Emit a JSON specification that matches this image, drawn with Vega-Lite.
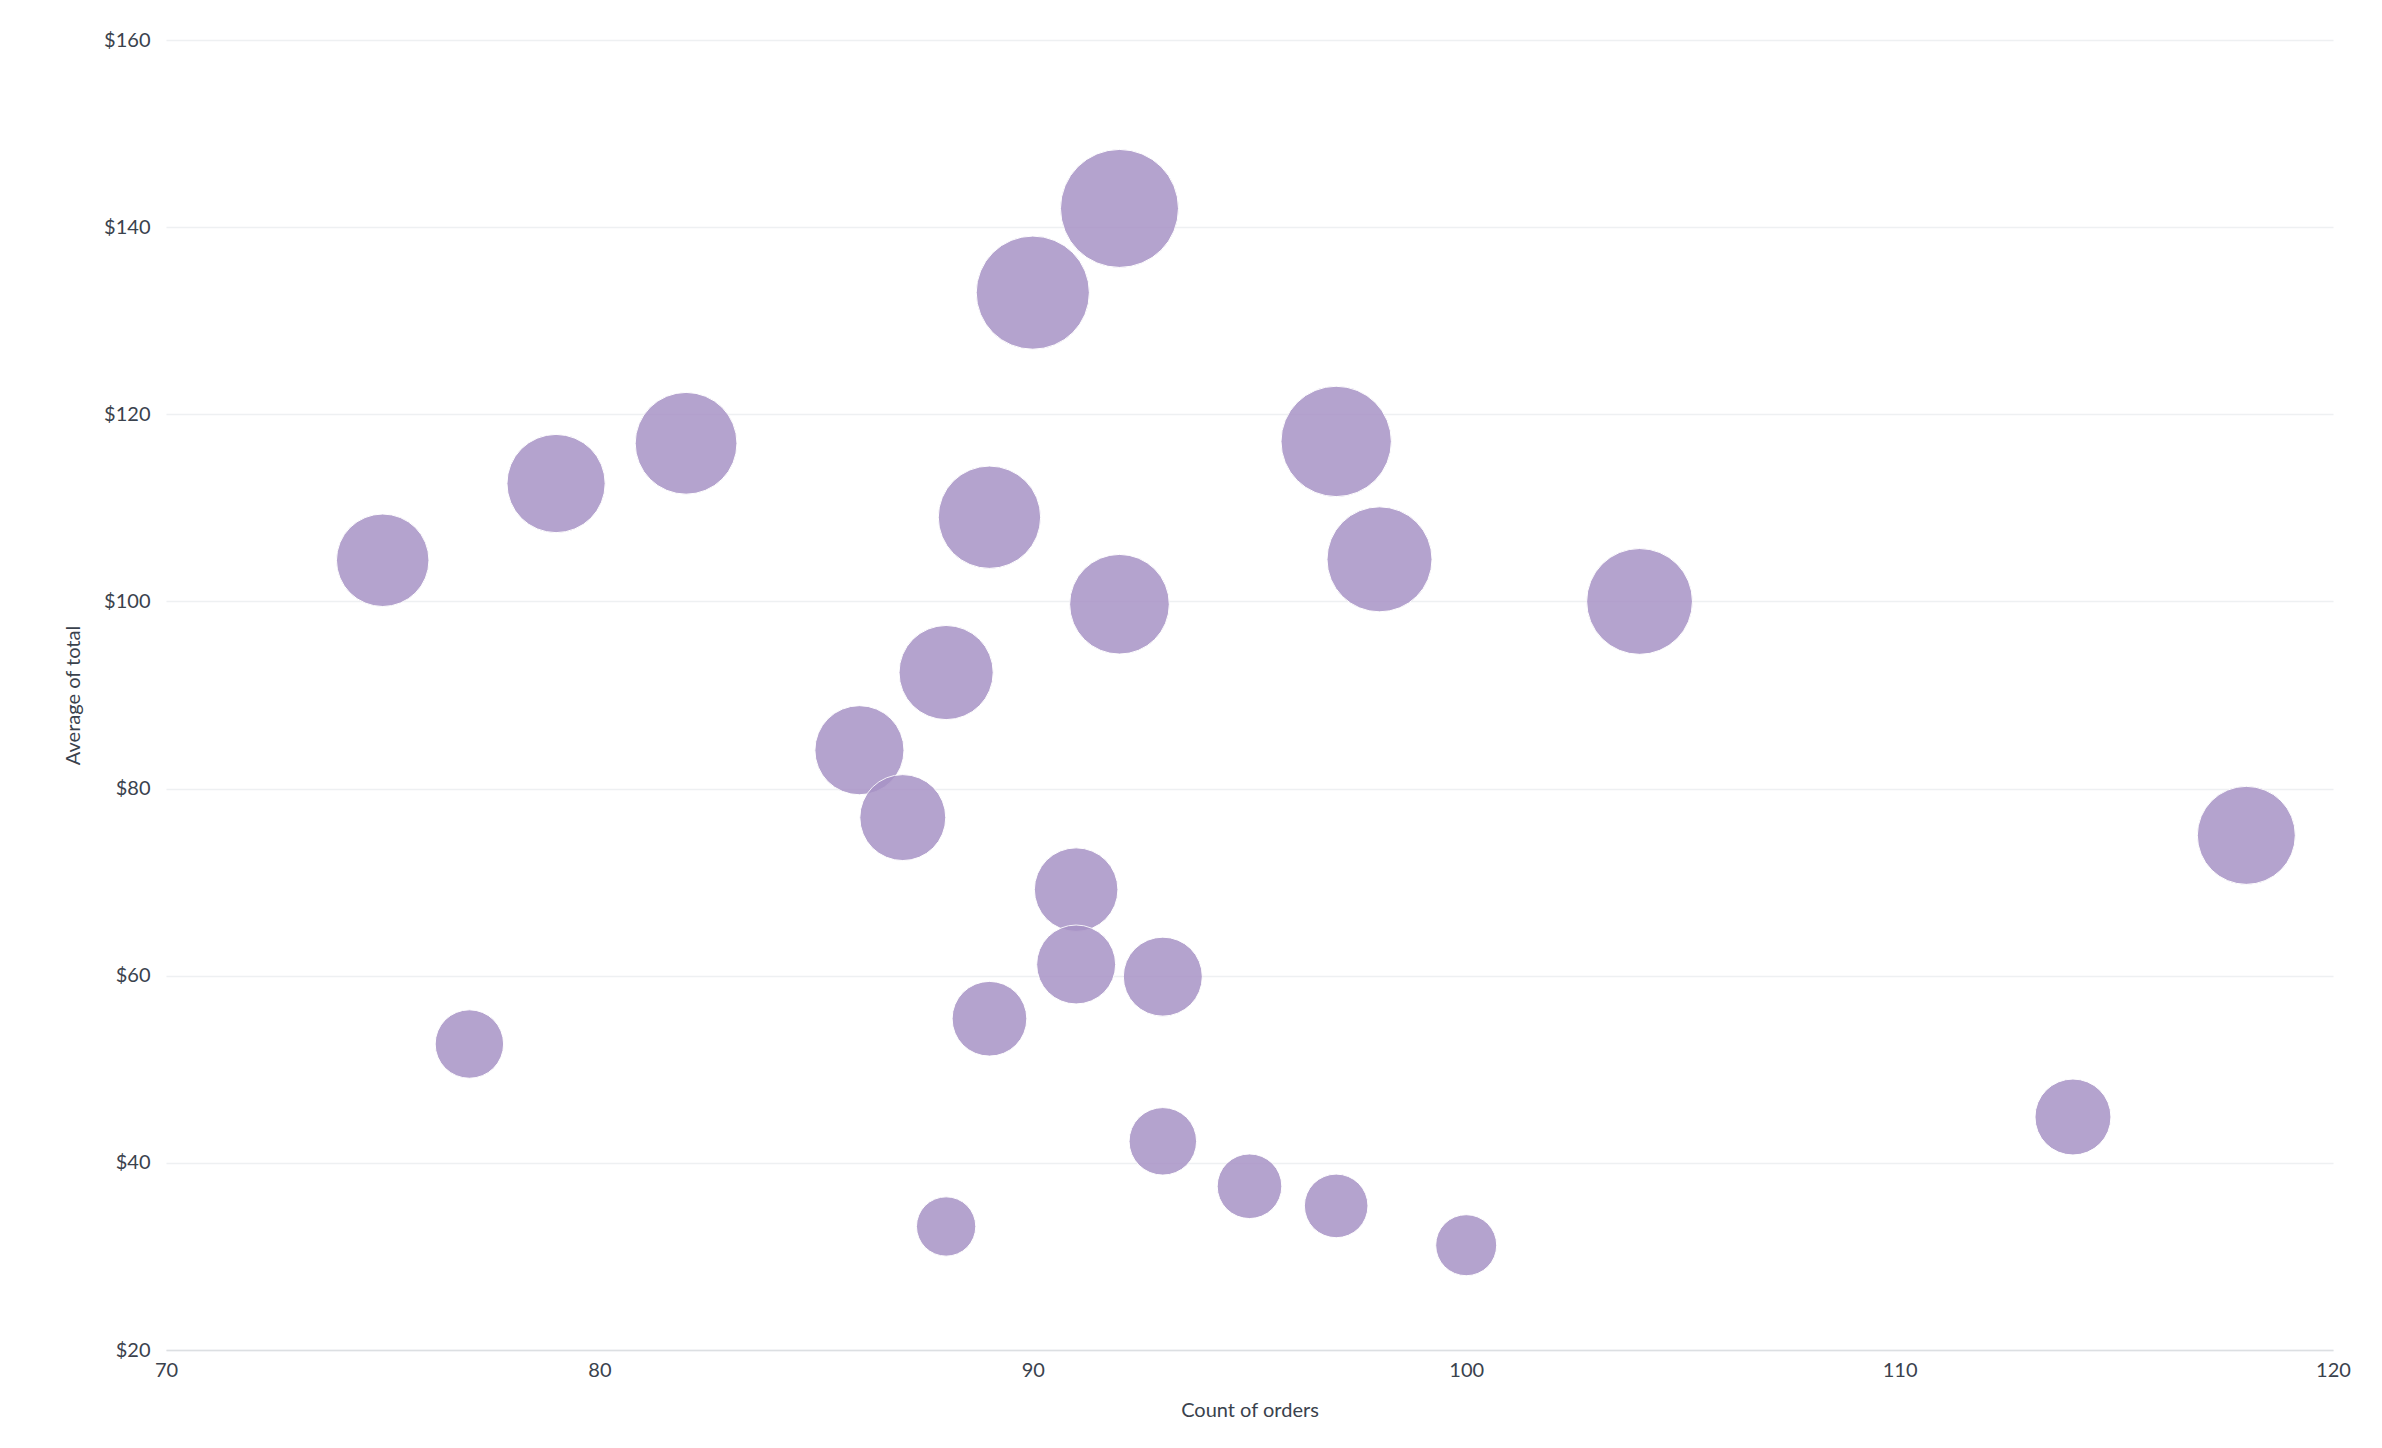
{
  "$schema": "https://vega.github.io/schema/vega-lite/v6.json",
  "autosize": {"type": "none"},
  "padding": {"left": 166, "top": 40, "right": 49, "bottom": 98},
  "width": 2167,
  "height": 1310,
  "background": "white",
  "view": {"stroke": null},
  "data": {
    "values": [
      {"count": 75, "avg": 104.4, "sum": 7830},
      {"count": 77, "avg": 52.7, "sum": 4058},
      {"count": 79, "avg": 112.6, "sum": 8895},
      {"count": 82, "avg": 116.9, "sum": 9586},
      {"count": 86, "avg": 84.1, "sum": 7233},
      {"count": 87, "avg": 76.9, "sum": 6690},
      {"count": 88, "avg": 92.4, "sum": 8131},
      {"count": 88, "avg": 33.2, "sum": 2922},
      {"count": 89, "avg": 109.0, "sum": 9701},
      {"count": 89, "avg": 55.4, "sum": 4931},
      {"count": 90, "avg": 133.0, "sum": 11970},
      {"count": 91, "avg": 69.2, "sum": 6297},
      {"count": 91, "avg": 61.2, "sum": 5569},
      {"count": 92, "avg": 142.0, "sum": 13064},
      {"count": 92, "avg": 99.7, "sum": 9172},
      {"count": 93, "avg": 59.9, "sum": 5571},
      {"count": 93, "avg": 42.3, "sum": 3934},
      {"count": 95, "avg": 37.5, "sum": 3563},
      {"count": 97, "avg": 117.1, "sum": 11359},
      {"count": 97, "avg": 35.4, "sum": 3434},
      {"count": 98, "avg": 104.5, "sum": 10241},
      {"count": 100, "avg": 31.2, "sum": 3120},
      {"count": 104, "avg": 100.0, "sum": 10400},
      {"count": 114, "avg": 44.9, "sum": 5119},
      {"count": 118, "avg": 75.0, "sum": 8850}
    ]
  },
  "mark": {
    "type": "circle",
    "color": "#A893C6",
    "opacity": 0.85,
    "stroke": "white",
    "strokeWidth": 1,
    "strokeOpacity": 1
  },
  "encoding": {
    "x": {
      "field": "count",
      "type": "quantitative",
      "title": "Count of orders",
      "scale": {"domain": [70, 120], "nice": false, "zero": false},
      "axis": {
        "values": [70, 80, 90, 100, 110, 120],
        "grid": false,
        "ticks": false,
        "tickSize": 0,
        "domain": true,
        "domainColor": "#DCDFE2",
        "domainWidth": 1.5,
        "labelPadding": 20,
        "labelBaseline": "middle",
        "labelFlush": false,
        "titleBaseline": "middle",
        "titleY": 60
      }
    },
    "y": {
      "field": "avg",
      "type": "quantitative",
      "title": "Average of total",
      "scale": {"domain": [20, 160], "nice": false, "zero": false},
      "axis": {
        "values": [20, 40, 60, 80, 100, 120, 140, 160],
        "format": "$,.0f",
        "grid": true,
        "gridColor": "#EEF0F2",
        "gridWidth": 1.5,
        "ticks": false,
        "tickSize": 0,
        "domain": false,
        "labelPadding": 16,
        "labelBaseline": "middle",
        "labelFlush": false,
        "titleAngle": -90,
        "titleAlign": "center",
        "titleBaseline": "middle",
        "titleX": -93,
        "titleY": 655
      }
    },
    "size": {
      "field": "sum",
      "type": "quantitative",
      "scale": {"type": "linear", "domain": [3120, 13064], "range": [3721, 13924], "zero": false},
      "legend": null
    }
  },
  "config": {
    "font": "Lato",
    "axis": {
      "labelFont": "Lato",
      "labelFontSize": 20,
      "labelColor": "#3A424D",
      "titleFont": "Lato",
      "titleFontSize": 20,
      "titleFontWeight": "normal",
      "titleColor": "#3A424D"
    }
  }
}
